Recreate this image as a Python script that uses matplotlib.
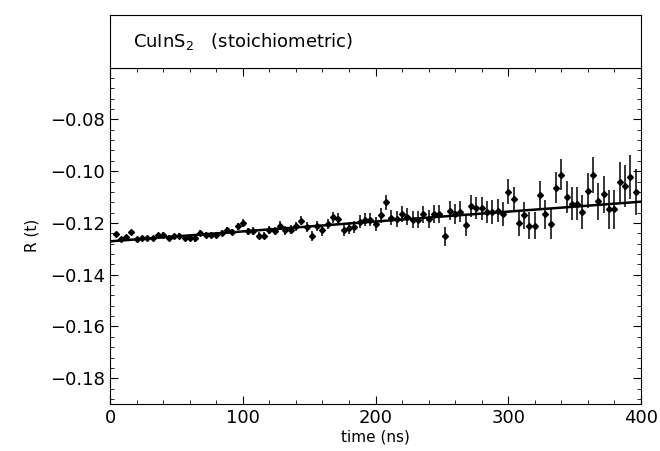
import numpy as np
import matplotlib
matplotlib.use('Agg')
import matplotlib.pyplot as plt
from matplotlib.ticker import MultipleLocator

time_ns = np.arange(4, 400, 4)
r_vals = [
    -0.1243, -0.1262, -0.1255, -0.1235, -0.1264, -0.1260, -0.1260, -0.1260, -0.1248, -0.1245,
    -0.1258, -0.1251, -0.1251, -0.1259, -0.1259, -0.1260, -0.1238, -0.1247, -0.1247, -0.1247,
    -0.1238, -0.1228, -0.1235, -0.1213, -0.1200, -0.1232,
    -0.1232, -0.1249, -0.1249, -0.1226, -0.1232, -0.1210, -0.1229, -0.1226, -0.1213, -0.1191,
    -0.1215, -0.1251, -0.1213, -0.1229, -0.1204, -0.1178, -0.1184, -0.1226, -0.1219, -0.1215,
    -0.1196, -0.1187, -0.1187, -0.1204, -0.1171, -0.1120,
    -0.1180, -0.1184, -0.1167, -0.1176, -0.1187, -0.1187, -0.1167, -0.1184, -0.1165, -0.1165,
    -0.1251, -0.1152, -0.1165, -0.1156, -0.1209, -0.1134, -0.1143, -0.1143, -0.1158, -0.1158,
    -0.1152, -0.1165, -0.1079, -0.1109, -0.1200,
    -0.1171, -0.1210, -0.1210, -0.1094, -0.1167, -0.1204, -0.1064, -0.1013, -0.1099, -0.1125,
    -0.1125, -0.1157, -0.1075, -0.1015, -0.1116, -0.1090, -0.1148, -0.1148, -0.1042, -0.1058,
    -0.1022, -0.1081,
]
r_err = [
    0.0008, 0.0008, 0.0009, 0.0008, 0.0009, 0.0009, 0.0009, 0.0010, 0.0009, 0.0010, 0.0010, 0.0010, 0.0011,
    0.0011, 0.0011, 0.0012, 0.0011, 0.0012, 0.0012, 0.0013, 0.0012, 0.0013, 0.0013, 0.0014, 0.0014,
    0.0014, 0.0015, 0.0015, 0.0015, 0.0016, 0.0016, 0.0017, 0.0017, 0.0017, 0.0018, 0.0018, 0.0019, 0.0019,
    0.0020, 0.0020, 0.0021, 0.0022, 0.0022, 0.0023, 0.0023, 0.0024, 0.0025, 0.0025, 0.0026, 0.0027,
    0.0028, 0.0029, 0.0029, 0.0030, 0.0031, 0.0032, 0.0032, 0.0033, 0.0034, 0.0035, 0.0036, 0.0036, 0.0037,
    0.0038, 0.0039, 0.0040, 0.0041, 0.0042, 0.0043, 0.0044, 0.0044, 0.0045, 0.0046, 0.0047, 0.0048,
    0.0049, 0.0050, 0.0051, 0.0052, 0.0054, 0.0055, 0.0056, 0.0058, 0.0059, 0.0060, 0.0062, 0.0063, 0.0065,
    0.0066, 0.0068, 0.0070, 0.0072, 0.0073, 0.0075, 0.0077, 0.0079, 0.0082, 0.0085, 0.0090,
]

# linear fit line
fit_t = [0, 400]
fit_r = [-0.1271, -0.1118]

fig = plt.figure(figsize=(6.6, 4.51), dpi=100)
ax = fig.add_axes([0.167, 0.104, 0.804, 0.746])
box = fig.add_axes([0.167, 0.850, 0.804, 0.117])

ax.errorbar(time_ns, r_vals, yerr=r_err, fmt='D', color='black', ms=3,
            elinewidth=1.1, capsize=0)
ax.plot(fit_t, fit_r, color='black', lw=1.8)

ax.set_xlim(0, 400)
ax.set_ylim(-0.19, -0.06)
ax.xaxis.set_major_locator(MultipleLocator(100))
ax.xaxis.set_minor_locator(MultipleLocator(20))
ax.yaxis.set_major_locator(MultipleLocator(0.02))
ax.yaxis.set_minor_locator(MultipleLocator(0.004))
ax.set_yticks([-0.08, -0.10, -0.12, -0.14, -0.16, -0.18])
ax.set_yticklabels(['\u22120.08', '\u22120.10', '\u22120.12', '\u22120.14', '\u22120.16', '\u22120.18'])
ax.tick_params(which='both', direction='in', top=True, right=True, labelsize=13)
ax.tick_params(which='major', length=6)
ax.tick_params(which='minor', length=3)
ax.set_xlabel('time (ns)', fontsize=11, labelpad=2)
ax.set_ylabel('R (t)', fontsize=11, labelpad=8)

box.set_xticks([])
box.set_yticks([])
box.text(0.043, 0.5, 'CuInS$_2$   (stoichiometric)', transform=box.transAxes,
         fontsize=13, va='center', ha='left')

fig.savefig('out.png', dpi=100)
